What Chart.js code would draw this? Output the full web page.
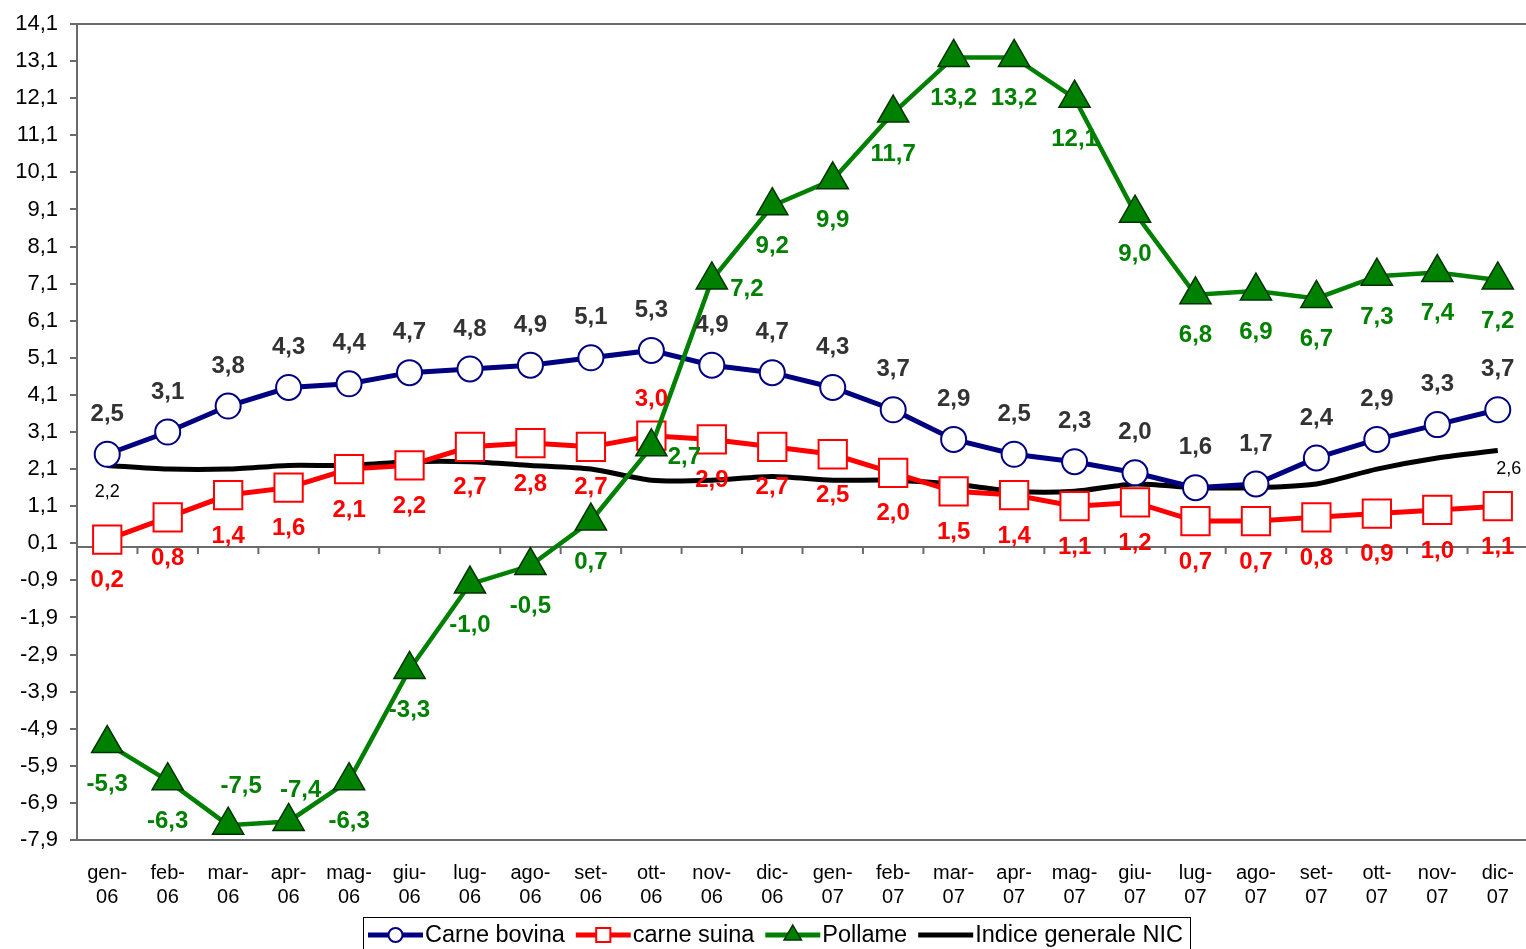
<!DOCTYPE html>
<html>
<head>
<meta charset="utf-8">
<script src="https://cdn.jsdelivr.net/npm/chart.js@4.4.0/dist/chart.umd.min.js"></script>
<style>
  html, body { margin: 0; padding: 0; background: #fff; overflow: hidden; }
  #wrap { position: relative; width: 1528px; height: 949px; }
</style>
</head>
<body>
<div id="wrap"><canvas id="chart"></canvas></div>
<script>
// ===== DATA =====
const months = [
  ["gen-", "06"], ["feb-", "06"], ["mar-", "06"], ["apr-", "06"], ["mag-", "06"], ["giu-", "06"],
  ["lug-", "06"], ["ago-", "06"], ["set-", "06"], ["ott-", "06"], ["nov-", "06"], ["dic-", "06"],
  ["gen-", "07"], ["feb-", "07"], ["mar-", "07"], ["apr-", "07"], ["mag-", "07"], ["giu-", "07"],
  ["lug-", "07"], ["ago-", "07"], ["set-", "07"], ["ott-", "07"], ["nov-", "07"], ["dic-", "07"]
];
const carneBovina = [2.5, 3.1, 3.8, 4.3, 4.4, 4.7, 4.8, 4.9, 5.1, 5.3, 4.9, 4.7, 4.3, 3.7, 2.9, 2.5, 2.3, 2.0, 1.6, 1.7, 2.4, 2.9, 3.3, 3.7];
const carneSuina = [0.2, 0.8, 1.4, 1.6, 2.1, 2.2, 2.7, 2.8, 2.7, 3.0, 2.9, 2.7, 2.5, 2.0, 1.5, 1.4, 1.1, 1.2, 0.7, 0.7, 0.8, 0.9, 1.0, 1.1];
const pollame = [-5.3, -6.3, -7.5, -7.4, -6.3, -3.3, -1.0, -0.5, 0.7, 2.7, 7.2, 9.2, 9.9, 11.7, 13.2, 13.2, 12.1, 9.0, 6.8, 6.9, 6.7, 7.3, 7.4, 7.2];
const indiceNIC = [2.2, 2.1, 2.1, 2.2, 2.2, 2.3, 2.3, 2.2, 2.1, 1.8, 1.8, 1.9, 1.8, 1.8, 1.7, 1.5, 1.5, 1.7, 1.6, 1.6, 1.7, 2.1, 2.4, 2.6];
const yTicks = [-7.9, -6.9, -5.9, -4.9, -3.9, -2.9, -1.9, -0.9, 0.1, 1.1, 2.1, 3.1, 4.1, 5.1, 6.1, 7.1, 8.1, 9.1, 10.1, 11.1, 12.1, 13.1, 14.1];

const FONT = '"Liberation Sans", Arial, sans-serif';
const AXIS_COLOR = "#6b6b6b";
const fmt = v => v.toFixed(1).replace(".", ",");

// ===== DATA LABEL PLACEMENT (px offsets from the point) =====
const labelStyles = [
  { font: "bold 24px " + FONT, color: "#333333", dx: 0, dy: -40 },
  { font: "bold 24px " + FONT, color: "#ff0000", dx: 0, dy: 41, moves: { 9: [0, -36] } },
  { font: "bold 24px " + FONT, color: "#008000", dx: 0, dy: 41,
    moves: { 2: [13, -39], 3: [12, -31], 9: [33, 11], 10: [35, 9] } },
  { font: "18px " + FONT, color: "#000000", only: { 0: [0, 27], 23: [11, 18] } }
];

// ===== PLUGINS =====
const frameLines = {
  id: "frameLines",
  beforeDatasetsDraw(chart) {
    const { ctx, chartArea: a, scales } = chart;
    const y0 = scales.y.getPixelForValue(0);
    ctx.save();
    ctx.strokeStyle = AXIS_COLOR;
    ctx.lineWidth = 2;
    ctx.beginPath();
    ctx.moveTo(a.left, a.top); ctx.lineTo(a.right, a.top);
    ctx.moveTo(a.left, y0); ctx.lineTo(a.right, y0);
    const step = (a.right - a.left) / months.length;
    for (let i = 1; i <= months.length; i++) {
      const x = a.left + i * step;
      ctx.moveTo(x, y0); ctx.lineTo(x, y0 + 7);
    }
    ctx.stroke();
    ctx.restore();
  }
};

const pointLabels = {
  id: "pointLabels",
  afterDatasetsDraw(chart) {
    const ctx = chart.ctx;
    ctx.save();
    ctx.textAlign = "center";
    ctx.textBaseline = "middle";
    chart.data.datasets.forEach((ds, di) => {
      const st = labelStyles[di];
      const meta = chart.getDatasetMeta(di);
      ctx.font = st.font;
      ctx.fillStyle = st.color;
      meta.data.forEach((pt, i) => {
        let off;
        if (st.only) { off = st.only[i]; if (!off) return; }
        else off = (st.moves && st.moves[i]) || [st.dx, st.dy];
        ctx.fillText(fmt(ds.data[i]), pt.x + off[0], pt.y + off[1]);
      });
    });
    ctx.restore();
  }
};

const boxLegend = {
  id: "boxLegend",
  afterDraw(chart) {
    const ctx = chart.ctx;
    ctx.save();
    ctx.strokeStyle = "#000";
    ctx.lineWidth = 1;
    ctx.strokeRect(363.5, 917.5, 827, 50);
    ctx.font = "23.5px " + FONT;
    ctx.textBaseline = "middle";
    const cy = 935;
    let x = 368;
    chart.data.datasets.forEach(ds => {
      ctx.strokeStyle = ds.borderColor;
      ctx.lineWidth = 5;
      ctx.beginPath();
      ctx.moveTo(x, cy); ctx.lineTo(x + 55, cy);
      ctx.stroke();
      if (ds.pointRadius > 0) {
        ctx.fillStyle = ds.pointBackgroundColor;
        ctx.strokeStyle = ds.pointBorderColor;
        ctx.lineWidth = ds.pointBorderWidth;
        const r = ds.pointStyle === "circle" ? 7 : 10;
        Chart.helpers.drawPoint(ctx, { pointStyle: ds.pointStyle, radius: r, borderWidth: ds.pointBorderWidth }, x + 27.5, cy);
      }
      ctx.fillStyle = "#000";
      ctx.fillText(ds.label, x + 57, cy + 1);
      x += 57 + ctx.measureText(ds.label).width + 11;
    });
    ctx.restore();
  }
};

// ===== CHART =====
new Chart(document.getElementById("chart"), {
  type: "line",
  data: {
    labels: months,
    datasets: [
      { label: "Carne bovina", data: carneBovina, borderColor: "#000080", borderWidth: 5,
        pointStyle: "circle", pointRadius: 12.5, pointBackgroundColor: "#ffffff",
        pointBorderColor: "#000080", pointBorderWidth: 2, order: 2, clip: false },
      { label: "carne suina", data: carneSuina, borderColor: "#ff0000", borderWidth: 5,
        pointStyle: "rect", pointRadius: 20, pointBackgroundColor: "#ffffff",
        pointBorderColor: "#ff0000", pointBorderWidth: 2, order: 3, clip: false },
      { label: "Pollame", data: pollame, borderColor: "#008000", borderWidth: 4.5,
        pointStyle: "triangle", pointRadius: 18, pointBackgroundColor: "#008000",
        pointBorderColor: "#003300", pointBorderWidth: 1.5, order: 1, clip: false },
      { label: "Indice generale NIC", data: indiceNIC, borderColor: "#000000", borderWidth: 5,
        pointRadius: 0, tension: 0.25, order: 4, clip: false }
    ]
  },
  options: {
    responsive: true,
    maintainAspectRatio: false,
    animation: false,
    layout: { autoPadding: false, padding: { top: 24, left: 0, right: 0, bottom: 0 } },
    plugins: { legend: { display: false }, tooltip: { enabled: false } },
    scales: {
      x: {
        type: "category",
        offset: true,
        grid: { display: false, drawTicks: false },
        border: { color: AXIS_COLOR, width: 2 },
        ticks: { color: "#000", font: { family: FONT, size: 20, lineHeight: 1.17 },
                 padding: 22, maxRotation: 0, autoSkip: false },
        afterFit(s) { s.height = 109; s.paddingLeft = 0; s.paddingRight = 0; }
      },
      y: {
        min: -7.9,
        max: 14.1,
        afterBuildTicks(s) { s.ticks = yTicks.map(v => ({ value: v })); },
        grid: { drawOnChartArea: false, tickLength: 7, color: AXIS_COLOR, lineWidth: 2 },
        border: { color: AXIS_COLOR, width: 2 },
        ticks: { color: "#000", font: { family: FONT, size: 22 }, padding: 12,
                 callback: v => fmt(v) },
        afterFit(s) { s.width = 77; s.paddingTop = 0; s.paddingBottom = 0; }
      }
    }
  },
  plugins: [frameLines, pointLabels, boxLegend]
});
</script>
</body>
</html>
